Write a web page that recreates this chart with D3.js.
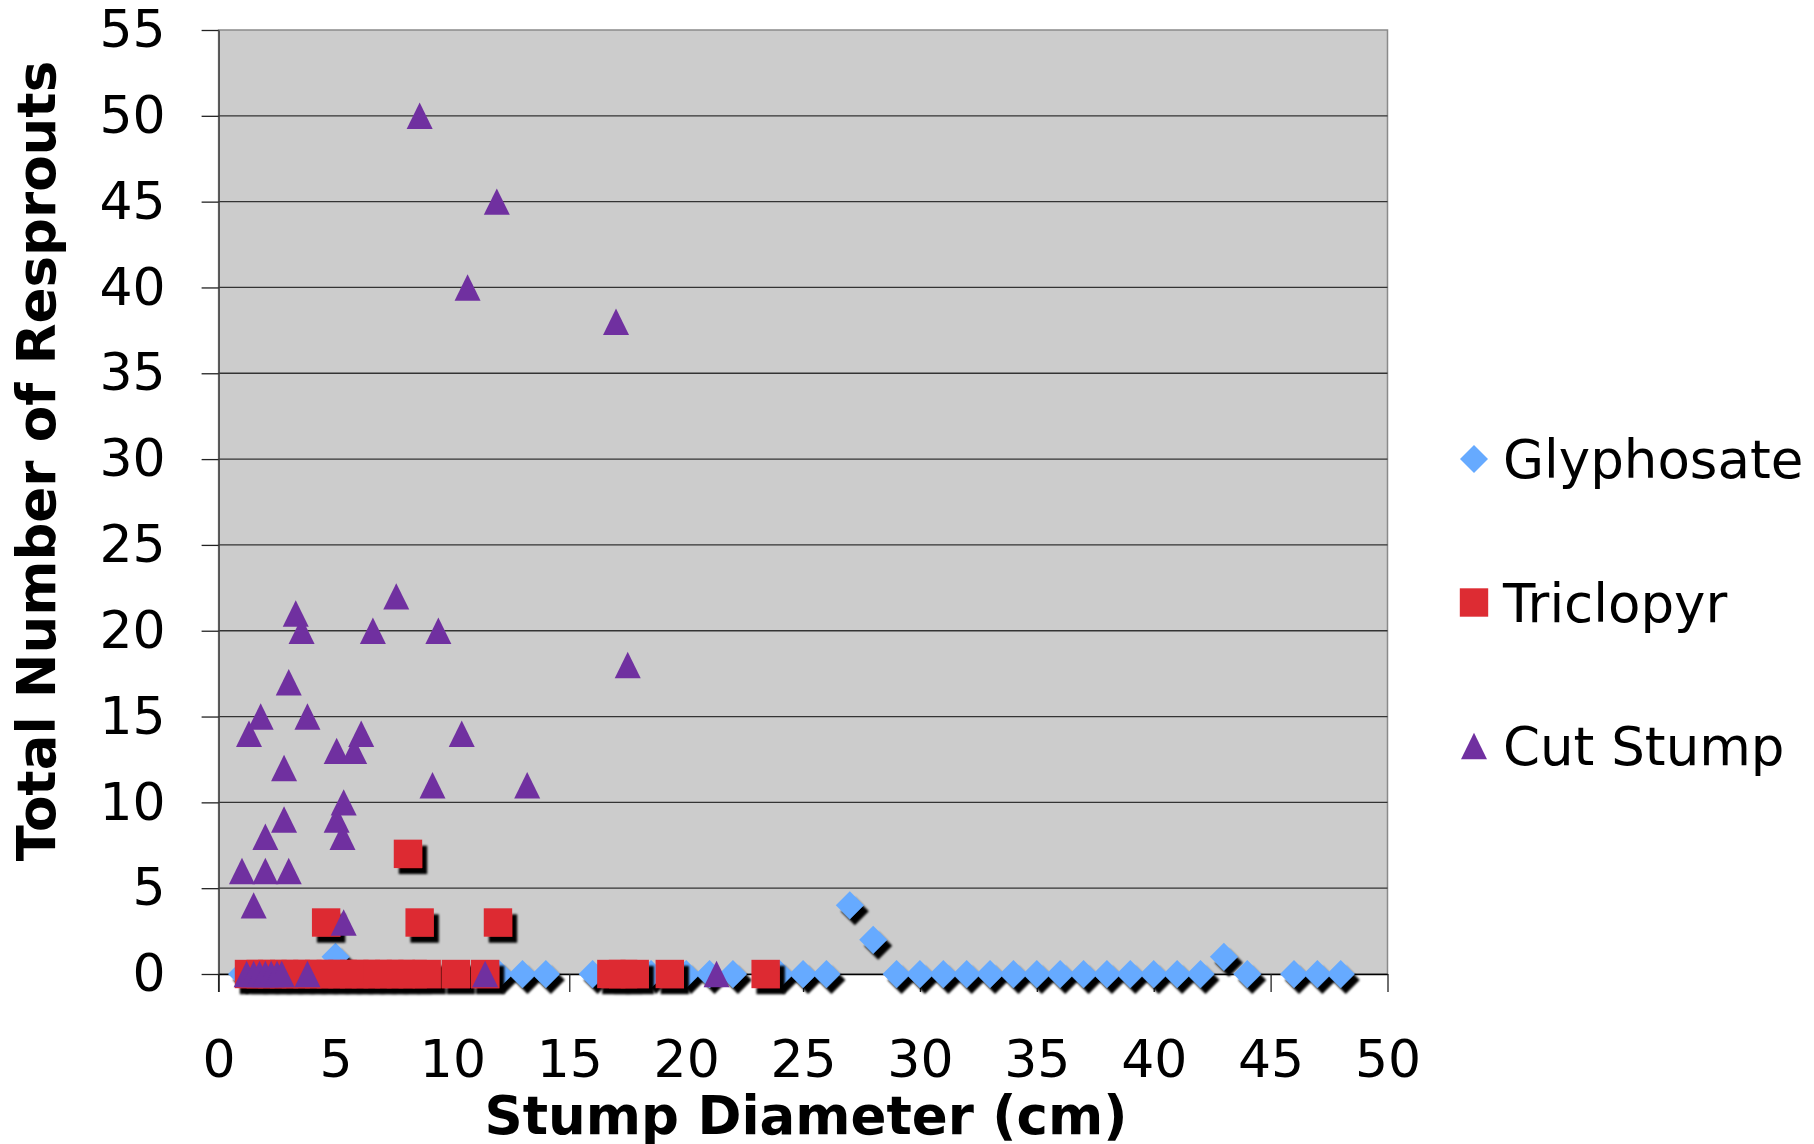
<!DOCTYPE html>
<html>
<head>
<meta charset="utf-8">
<script src="https://cdn.jsdelivr.net/npm/d3@7"></script>
<style>
  body { margin: 0; background: #ffffff; }
  svg { display: block; }
  text { font-family: "DejaVu Sans", Verdana, sans-serif; fill: #000; }
</style>
</head>
<body>
<svg id="chart" width="1814" height="1144"></svg>
<script>
// Axis ticks
const xTicks = [0, 5, 10, 15, 20, 25, 30, 35, 40, 45, 50];
const yTicks = [0, 5, 10, 15, 20, 25, 30, 35, 40, 45, 50, 55];

// Glyphosate-treated stumps: diameter (cm) and resprout count
const glyphosateDiameter = [1, 5, 12, 13, 14, 16, 18.5, 20, 21, 22, 24, 25, 26, 27, 28,
  29, 30, 31, 32, 33, 34, 35, 36, 37, 38, 39, 40, 41, 42, 43, 44, 46, 47, 48];
const glyphosateResprouts = [0, 1, 0, 0, 0, 0, 0, 0, 0, 0, 0, 0, 0, 4, 2,
  0, 0, 0, 0, 0, 0, 0, 0, 0, 0, 0, 0, 0, 0, 1, 0, 0, 0, 0];

// Triclopyr-treated stumps
const triclopyrDiameter = [8.1, 4.6, 8.6, 11.95,
  1.3, 1.8, 2.3, 2.8, 3.3, 3.8, 4.3, 4.8, 5.3, 5.8, 6.3, 6.8, 7.3, 7.8, 8.3, 8.9,
  10.15, 11.4, 16.8, 17.3, 17.8, 19.3, 23.4];
const triclopyrResprouts = [7, 3, 3, 3,
  0, 0, 0, 0, 0, 0, 0, 0, 0, 0, 0, 0, 0, 0, 0, 0,
  0, 0, 0, 0, 0, 0, 0];

// Untreated cut stumps
const cutStumpDiameter = [8.6, 11.9, 10.65, 17.0, 3.3, 3.55, 7.6, 6.6, 9.4, 17.5,
  3.0, 1.8, 1.3, 3.8, 6.1, 5.05, 5.8, 10.4, 2.8, 9.15, 13.2, 5.35, 2.8, 5.05,
  2.0, 5.3, 1.0, 2.0, 3.0, 1.5, 5.35,
  1.2, 1.5, 1.75, 2.0, 2.25, 2.5, 2.7, 3.8, 11.4, 21.3];
const cutStumpResprouts = [50, 45, 40, 38, 21, 20, 22, 20, 20, 18,
  17, 15, 14, 15, 14, 13, 13, 14, 12, 11, 11, 10, 9, 9,
  8, 8, 6, 6, 6, 4, 3,
  0, 0, 0, 0, 0, 0, 0, 0, 0, 0];

const seriesNames = ["Glyphosate", "Triclopyr", "Cut Stump"];
const seriesColors = ["#66AAFF", "#DD2C33", "#7030A0"];
const seriesShapes = ["diamond", "square", "triangle"];

const xTitle = "Stump Diameter (cm)";
const yTitle = "Total Number of Resprouts";

const series = [
  { name: seriesNames[0], color: seriesColors[0], shape: seriesShapes[0], shadow: true,
    points: glyphosateDiameter.map((d, i) => [d, glyphosateResprouts[i]]) },
  { name: seriesNames[1], color: seriesColors[1], shape: seriesShapes[1], shadow: true,
    points: triclopyrDiameter.map((d, i) => [d, triclopyrResprouts[i]]) },
  { name: seriesNames[2], color: seriesColors[2], shape: seriesShapes[2], shadow: false,
    points: cutStumpDiameter.map((d, i) => [d, cutStumpResprouts[i]]) }
];

// Plot frame
const plot = { left: 218.6, right: 1387.5, top: 30, bottom: 974 };

const x = d3.scaleLinear().domain([0, 50]).range([plot.left, plot.right]);
const y = d3.scaleLinear().domain([0, 55]).range([plot.bottom, plot.top]);

const svg = d3.select("#chart");

// Marker outlines centred on (0,0)
function markerPath(shape) {
  if (shape === "diamond") {
    const h = 14;
    return `M0,${-h}L${h},0L0,${h}L${-h},0Z`;
  }
  if (shape === "square") {
    const h = 14.2;
    return `M${-h},${-h}H${h}V${h}H${-h}Z`;
  }
  const w = 13, h = 13.2;
  return `M0,${-h}L${w},${h}L${-w},${h}Z`;
}

const defs = svg.append("defs");
const shadow = defs.append("filter").attr("id", "markerShadow")
  .attr("x", "-50%").attr("y", "-50%").attr("width", "200%").attr("height", "200%");
shadow.append("feDropShadow")
  .attr("dx", 5).attr("dy", 6).attr("stdDeviation", 1)
  .attr("flood-color", "#000").attr("flood-opacity", 1);

// Plot background
svg.append("rect")
  .attr("x", plot.left).attr("y", plot.top)
  .attr("width", plot.right - plot.left).attr("height", plot.bottom - plot.top)
  .attr("fill", "#CCCCCC")
  .attr("stroke", "#8a8a8a").attr("stroke-width", 1.5);

// Horizontal gridlines
svg.append("g").selectAll("line")
  .data(yTicks.filter(v => v > 0 && v < 55))
  .join("line")
  .attr("x1", plot.left).attr("x2", plot.right)
  .attr("y1", d => y(d)).attr("y2", d => y(d))
  .attr("stroke", "#333").attr("stroke-width", 1.3);

// Y axis
const yAxis = svg.append("g")
  .attr("transform", `translate(${plot.left},0)`)
  .call(d3.axisLeft(y).tickValues(yTicks).tickSize(17).tickSizeOuter(0).tickPadding(36));
yAxis.select(".domain").attr("stroke", "#444").attr("stroke-width", 1.5);
yAxis.selectAll(".tick line").attr("stroke", "#222").attr("stroke-width", 1.3);
yAxis.selectAll(".tick text").attr("font-size", 52).attr("font-family", "DejaVu Sans, Verdana, sans-serif");

// X axis
const xAxis = svg.append("g")
  .attr("transform", `translate(0,${plot.bottom})`)
  .call(d3.axisBottom(x).tickValues(xTicks).tickSize(18).tickSizeOuter(0).tickPadding(48));
xAxis.select(".domain").attr("stroke", "#000").attr("stroke-width", 1.3);
xAxis.selectAll(".tick line").attr("stroke", "#222").attr("stroke-width", 1.3);
xAxis.selectAll(".tick text").attr("font-size", 52).attr("font-family", "DejaVu Sans, Verdana, sans-serif");

// Y axis extends past the origin like the tick marks
svg.append("line")
  .attr("x1", plot.left).attr("x2", plot.left)
  .attr("y1", plot.bottom).attr("y2", plot.bottom + 18)
  .attr("stroke", "#222").attr("stroke-width", 1.3);

// Markers
series.forEach(s => {
  const g = svg.append("g").attr("class", "series");
  if (s.shadow) g.attr("filter", "url(#markerShadow)");
  g.selectAll("path")
    .data(s.points)
    .join("path")
    .attr("d", markerPath(s.shape))
    .attr("transform", d => `translate(${x(d[0])},${y(d[1])})`)
    .attr("fill", s.color);
});

// Axis titles
svg.append("text")
  .attr("x", 806).attr("y", 1134)
  .attr("text-anchor", "middle")
  .attr("font-size", 53).attr("font-weight", "bold")
  .text(xTitle);

svg.append("text")
  .attr("transform", "translate(55,461) rotate(-90)")
  .attr("text-anchor", "middle")
  .attr("font-size", 53).attr("font-weight", "bold")
  .text(yTitle);

// Legend
const legend = svg.append("g").attr("class", "legend");
series.forEach((s, i) => {
  const cy = 459 + i * 143.5;
  legend.append("path")
    .attr("d", markerPath(s.shape))
    .attr("transform", `translate(1474,${cy})`)
    .attr("fill", s.color);
  legend.append("text")
    .attr("x", 1503).attr("y", cy + 19)
    .attr("font-size", 53)
    .text(s.name);
});
</script>
</body>
</html>
